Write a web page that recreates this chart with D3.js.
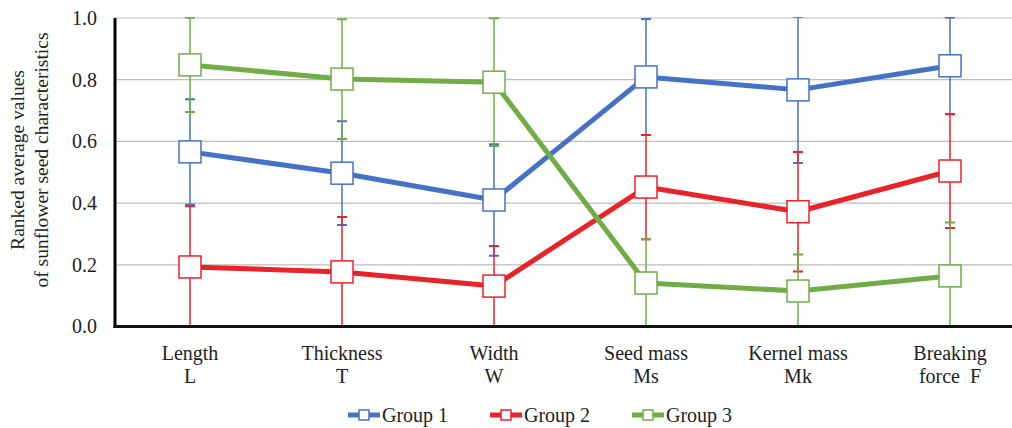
<!DOCTYPE html>
<html>
<head>
<meta charset="utf-8">
<script src="https://cdn.jsdelivr.net/npm/d3@7"></script>
<style>
  html, body { margin: 0; padding: 0; background: #fff; }
  svg { display: block; font-family: "Liberation Serif", "Times New Roman", serif; }
  svg text { white-space: pre; }
</style>
</head>
<body>
<svg id="chart" width="1012" height="428"></svg>
<script>
// Categories (two-line labels)
const categories = ["L", "T", "W", "Ms", "Mk", "F"];
const categoryLines = [
  ["Length", "L"],
  ["Thickness", "T"],
  ["Width", "W"],
  ["Seed mass", "Ms"],
  ["Kernel mass", "Mk"],
  ["Breaking", "force  F"]
];
const seriesNames = ["Group 1", "Group 2", "Group 3"];
const seriesColors = ["#4472C4", "#E8232A", "#70AD47"];

// Ranked average values per group
const group1 = [0.566, 0.497, 0.410, 0.809, 0.767, 0.845];
const group2 = [0.193, 0.177, 0.131, 0.452, 0.372, 0.504];
const group3 = [0.848, 0.802, 0.792, 0.141, 0.115, 0.164];

// Error amounts (±)
const group1Err = [0.171, 0.168, 0.181, 0.188, 0.237, 0.157];
const group2Err = [0.197, 0.178, 0.130, 0.169, 0.194, 0.185];
const group3Err = [0.153, 0.194, 0.207, 0.142, 0.118, 0.173];

const yTicks = [0, 0.2, 0.4, 0.6, 0.8, 1.0];

const seriesValues = [group1, group2, group3];
const seriesErrors = [group1Err, group2Err, group3Err];

const FONT = 20;
const svg = d3.select("#chart");
const plot = { left: 115, right: 1012, top: 18, bottom: 326.5 };

const x = d3.scalePoint().domain(categories).range([190, 950]);
const y = d3.scaleLinear().domain([0, 1]).range([plot.bottom, plot.top]);

// Gridlines
svg.append("g")
  .selectAll("line")
  .data(yTicks.filter(d => d > 0))
  .join("line")
  .attr("x1", plot.left).attr("x2", plot.right)
  .attr("y1", d => y(d)).attr("y2", d => y(d))
  .attr("stroke", "#BDBDBD").attr("stroke-width", 1.2);

// Y axis tick labels
const yAxis = d3.axisLeft(y).tickValues(yTicks).tickFormat(d3.format(".1f")).tickSize(0).tickPadding(18);
const yG = svg.append("g").attr("transform", `translate(${plot.left},0)`).call(yAxis);
yG.select(".domain").remove();
yG.selectAll("text")
  .attr("font-family", "Liberation Serif, Times New Roman, serif")
  .attr("font-size", FONT).attr("fill", "#222");

// Y axis title
const yTitle = svg.append("text")
  .attr("transform", "translate(24,160) rotate(-90)")
  .attr("text-anchor", "middle")
  .attr("font-size", 19.5).attr("fill", "#222");
yTitle.append("tspan").attr("x", 0).attr("dy", 0).text("Ranked average values");
yTitle.append("tspan").attr("x", 0).attr("dy", 24).text("of sunflower seed characteristics");

// X category labels
const xl = svg.append("g");
categories.forEach((c, i) => {
  const t = xl.append("text")
    .attr("x", x(c)).attr("y", 360)
    .attr("text-anchor", "middle")
    .attr("font-size", FONT).attr("fill", "#222");
  t.append("tspan").attr("x", x(c)).attr("dy", 0).text(categoryLines[i][0]);
  t.append("tspan").attr("x", x(c)).attr("dy", 23).text(categoryLines[i][1]);
});

// Clip for data marks
svg.append("clipPath").attr("id", "plotClip")
  .append("rect")
  .attr("x", plot.left).attr("y", plot.top - 1)
  .attr("width", plot.right - plot.left).attr("height", plot.bottom - plot.top + 1);

const data = svg.append("g").attr("clip-path", "url(#plotClip)");

const line = d3.line().x((d, i) => x(categories[i])).y(d => y(d));

seriesValues.forEach((vals, s) => {
  const color = seriesColors[s];
  const errs = seriesErrors[s];
  const g = data.append("g");

  // error bars
  vals.forEach((v, i) => {
    const cx = x(categories[i]);
    const lo = y(v - errs[i]), hi = y(v + errs[i]);
    g.append("line").attr("x1", cx).attr("x2", cx).attr("y1", lo).attr("y2", hi)
      .attr("stroke", color).attr("stroke-width", 1.5);
    [lo, hi].forEach(yy => {
      g.append("line").attr("x1", cx - 5).attr("x2", cx + 5).attr("y1", yy).attr("y2", yy)
        .attr("stroke", color).attr("stroke-width", 2);
    });
  });

  // line
  g.append("path").datum(vals).attr("d", line)
    .attr("fill", "none").attr("stroke", color).attr("stroke-width", 5)
    .attr("stroke-linejoin", "round");

  // markers
  g.selectAll("rect.m").data(vals).join("rect")
    .attr("class", "m")
    .attr("x", (d, i) => x(categories[i]) - 11)
    .attr("y", d => y(d) - 11)
    .attr("width", 22).attr("height", 22)
    .attr("fill", "#fff").attr("stroke", color).attr("stroke-width", 1.5);
});

// Axis lines
svg.append("line").attr("x1", plot.left).attr("x2", plot.left)
  .attr("y1", plot.top).attr("y2", plot.bottom + 1.5)
  .attr("stroke", "#000").attr("stroke-width", 3);
svg.append("line").attr("x1", plot.left - 1.5).attr("x2", plot.right)
  .attr("y1", plot.bottom).attr("y2", plot.bottom)
  .attr("stroke", "#111").attr("stroke-width", 3);

// Legend
const legendX = [348, 490, 632];
const legend = svg.append("g");
seriesNames.forEach((name, s) => {
  const lx = legendX[s], ly = 415;
  legend.append("line").attr("x1", lx).attr("x2", lx + 32).attr("y1", ly).attr("y2", ly)
    .attr("stroke", seriesColors[s]).attr("stroke-width", 5);
  legend.append("rect").attr("x", lx + 11).attr("y", ly - 5).attr("width", 10).attr("height", 10)
    .attr("fill", "#fff").attr("stroke", seriesColors[s]).attr("stroke-width", 1.5);
  legend.append("text").attr("x", lx + 34).attr("y", ly + 7)
    .attr("font-size", FONT).attr("fill", "#222").text(name);
});
</script>
</body>
</html>
